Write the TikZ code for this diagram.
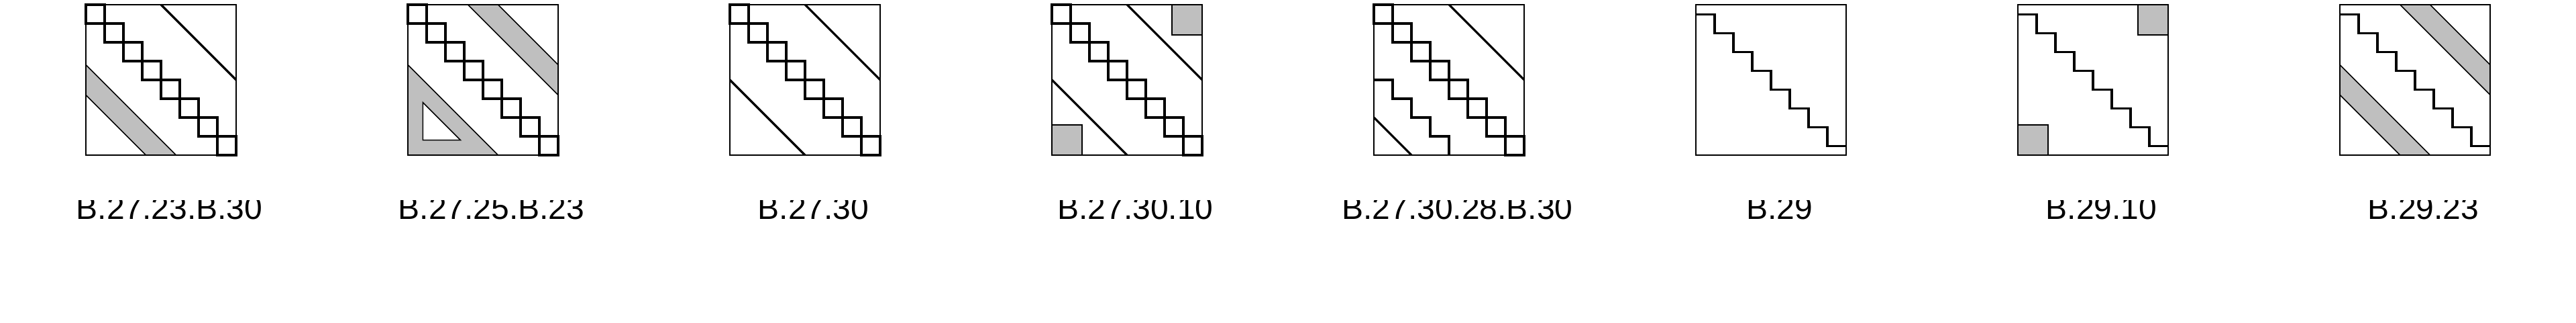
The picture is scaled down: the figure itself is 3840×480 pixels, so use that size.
\documentclass[tikz,border=0pt]{standalone}
\usepackage{fontspec}
\setmainfont{Liberation Sans}
\newcommand\rsDiagSq{\foreach \k in {0,...,7} {\draw[diag] (\k/8,\k/8) rectangle ++(0.125,0.125);}}
\newcommand\rsStair{\draw[diag] (0,0.065) -- (0.125,0.065) -- (0.125,0.19) -- (0.25,0.19) -- (0.25,0.315) -- (0.375,0.315) -- (0.375,0.44) -- (0.5,0.44) -- (0.5,0.565) -- (0.625,0.565) -- (0.625,0.69) -- (0.75,0.69) -- (0.75,0.815) -- (0.875,0.815) -- (0.875,0.94) -- (1,0.94);}
\newcommand\rsFrame{\draw[frame] (0,0) rectangle (1,1);}
\newcommand\rsLowBand{\fill[shade] (0,0.4) -- (0.6,1) -- (0.4,1) -- (0,0.6) -- cycle;
  \draw[thinline] (0,0.4) -- (0.6,1); \draw[thinline] (0,0.6) -- (0.4,1);}
\newcommand\rsUpBand{\fill[shade] (0.4,0) -- (0.6,0) -- (1,0.4) -- (1,0.6) -- cycle;
  \draw[thinline] (0.4,0) -- (1,0.6); \draw[thinline] (0.6,0) -- (1,0.4);}
\newcommand\rsCornerSq{\draw[thinline, shade] (0.8,0) rectangle (1,0.2); \draw[thinline, shade] (0,0.8) rectangle (0.2,1);}
\begin{document}
\begin{tikzpicture}[x=1pt,y=-1pt,
  frame/.style={line width=2.6pt},
  diag/.style={line width=3.6pt, line join=miter},
  thickline/.style={line width=3.2pt},
  thinline/.style={line width=1.6pt},
  shade/.style={fill=black!25},
  lab/.style={anchor=base, inner sep=0pt, font=\fontsize{48}{50}\selectfont},
  panel/.style={yshift=-7pt, x=224pt, y=-224pt}]
\useasboundingbox (0,0) rectangle (3840,480);
% panel 1
\begin{scope}[xshift=128pt, panel]
  \rsLowBand
  \draw[thickline] (0.5,0) -- (1,0.5);
  \rsFrame \rsDiagSq
\end{scope}
% panel 2
\begin{scope}[xshift=608pt, panel]
  \rsUpBand
  \fill[shade] (0,0.4) -- (0.6,1) -- (0,1) -- cycle;
  \draw[thinline] (0,0.4) -- (0.6,1);
  \draw[thinline, fill=white] (0.1,0.65) -- (0.1,0.9) -- (0.35,0.9) -- cycle;
  \rsFrame \rsDiagSq
\end{scope}
% panel 3
\begin{scope}[xshift=1088pt, panel]
  \draw[thickline] (0.5,0) -- (1,0.5);
  \draw[thickline] (0,0.5) -- (0.5,1);
  \rsFrame \rsDiagSq
\end{scope}
% panel 4
\begin{scope}[xshift=1568pt, panel]
  \rsCornerSq
  \draw[thickline] (0.5,0) -- (1,0.5);
  \draw[thickline] (0,0.5) -- (0.5,1);
  \rsFrame \rsDiagSq
\end{scope}
% panel 5
\begin{scope}[xshift=2048pt, panel]
  \draw[thickline] (0.5,0) -- (1,0.5);
  \draw[diag] (0,0.5) -- (0.125,0.5) -- (0.125,0.625) -- (0.25,0.625) -- (0.25,0.75) -- (0.375,0.75) -- (0.375,0.875) -- (0.5,0.875) -- (0.5,1);
  \draw[thickline] (0,0.75) -- (0.25,1);
  \rsFrame \rsDiagSq
\end{scope}
% panel 6
\begin{scope}[xshift=2528pt, panel]
  \rsFrame \rsStair
\end{scope}
% panel 7
\begin{scope}[xshift=3008pt, panel]
  \rsCornerSq
  \rsFrame \rsStair
\end{scope}
% panel 8
\begin{scope}[xshift=3488pt, panel]
  \rsLowBand \rsUpBand
  \rsFrame \rsStair
\end{scope}
% labels (top clipped as in the reference)
\begin{scope}
  \clip (0,298) rectangle (3840,480);
  \node[lab] (lab1) at (252.5,326) {B.27.23.B.30};
  \node[lab] (lab2) at (732.5,326) {B.27.25.B.23};
  \node[lab] (lab3) at (1212.5,326) {B.27.30};
  \node[lab] (lab4) at (1692.5,326) {B.27.30.10};
  \node[lab] (lab5) at (2172.5,326) {B.27.30.28.B.30};
  \node[lab] (lab6) at (2652.5,326) {B.29};
  \node[lab] (lab7) at (3132.5,326) {B.29.10};
  \node[lab] (lab8) at (3612.5,326) {B.29.23};
\end{scope}
\end{tikzpicture}
\end{document}
